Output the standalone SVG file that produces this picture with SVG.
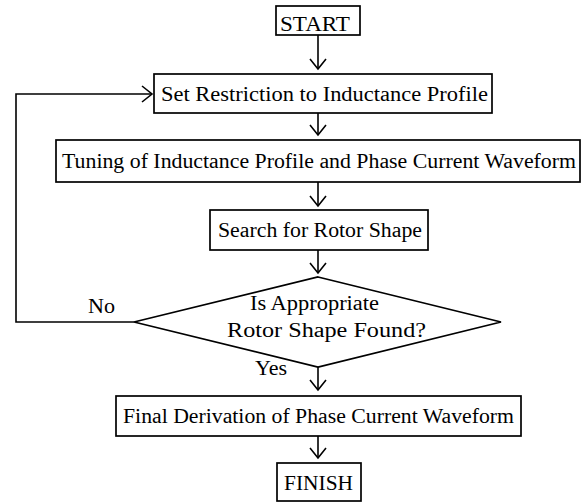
<svg xmlns="http://www.w3.org/2000/svg" width="586" height="502" viewBox="0 0 586 502">
<style>
  .box { fill: #fff; stroke: #000; stroke-width: 1.7; }
  .t { font-family: "Liberation Serif", "Times New Roman", serif; font-size: 20px; fill: #000; }
  .c { fill: none; stroke: #000; stroke-width: 1.6; }
</style>
<defs>
  <marker id="ah" viewBox="0 0 10 16" refX="10" refY="8" markerWidth="10" markerHeight="16" markerUnits="userSpaceOnUse" orient="auto" overflow="visible">
    <path d="M0,0 L10,8 L0,16" fill="none" stroke="#000" stroke-width="1.6"/>
  </marker>
</defs>
<rect width="586" height="502" fill="#fff"/>
<g id="connectors">
  <line class="c" x1="318" y1="35" x2="318" y2="69" marker-end="url(#ah)"/>
  <line class="c" x1="318" y1="113" x2="318" y2="135" marker-end="url(#ah)"/>
  <line class="c" x1="318" y1="182" x2="318" y2="206" marker-end="url(#ah)"/>
  <line class="c" x1="318" y1="250" x2="318" y2="273" marker-end="url(#ah)"/>
  <line class="c" x1="318" y1="367" x2="318" y2="390" marker-end="url(#ah)"/>
  <line class="c" x1="318" y1="436" x2="318" y2="458" marker-end="url(#ah)"/>
  <polyline class="c" points="134,322 16,322 16,94 152,94" marker-end="url(#ah)"/>
  <text class="t" x="88" y="313" textLength="27" lengthAdjust="spacingAndGlyphs">No</text>
  <text class="t" x="255" y="375" textLength="32" lengthAdjust="spacingAndGlyphs">Yes</text>
</g>
<g id="start">
  <rect class="box" x="276" y="6" width="84" height="29"/>
  <text class="t" x="280" y="31" textLength="70" lengthAdjust="spacingAndGlyphs">START</text>
</g>
<g id="set-restriction">
  <rect class="box" x="154" y="74" width="338" height="39"/>
  <text class="t" x="161" y="101" textLength="327" lengthAdjust="spacingAndGlyphs">Set Restriction to Inductance Profile</text>
</g>
<g id="tuning">
  <rect class="box" x="56" y="140" width="524" height="42"/>
  <text class="t" x="62" y="168" textLength="514" lengthAdjust="spacingAndGlyphs">Tuning of Inductance Profile and Phase Current Waveform</text>
</g>
<g id="search">
  <rect class="box" x="210" y="210" width="218" height="40"/>
  <text class="t" x="218" y="237" textLength="204" lengthAdjust="spacingAndGlyphs">Search for Rotor Shape</text>
</g>
<g id="decision">
  <polygon class="box" points="318,277 501,322 318,367 134,322"/>
  <text class="t" x="250" y="310" textLength="129" lengthAdjust="spacingAndGlyphs">Is Appropriate</text>
  <text class="t" x="227" y="337" textLength="199" lengthAdjust="spacingAndGlyphs">Rotor Shape Found?</text>
</g>
<g id="final">
  <rect class="box" x="116" y="396" width="405" height="40"/>
  <text class="t" x="123" y="423" textLength="391" lengthAdjust="spacingAndGlyphs">Final Derivation of Phase Current Waveform</text>
</g>
<g id="finish">
  <rect class="box" x="277" y="463" width="84" height="38"/>
  <text class="t" x="284" y="490" textLength="69" lengthAdjust="spacingAndGlyphs">FINISH</text>
</g>
</svg>
